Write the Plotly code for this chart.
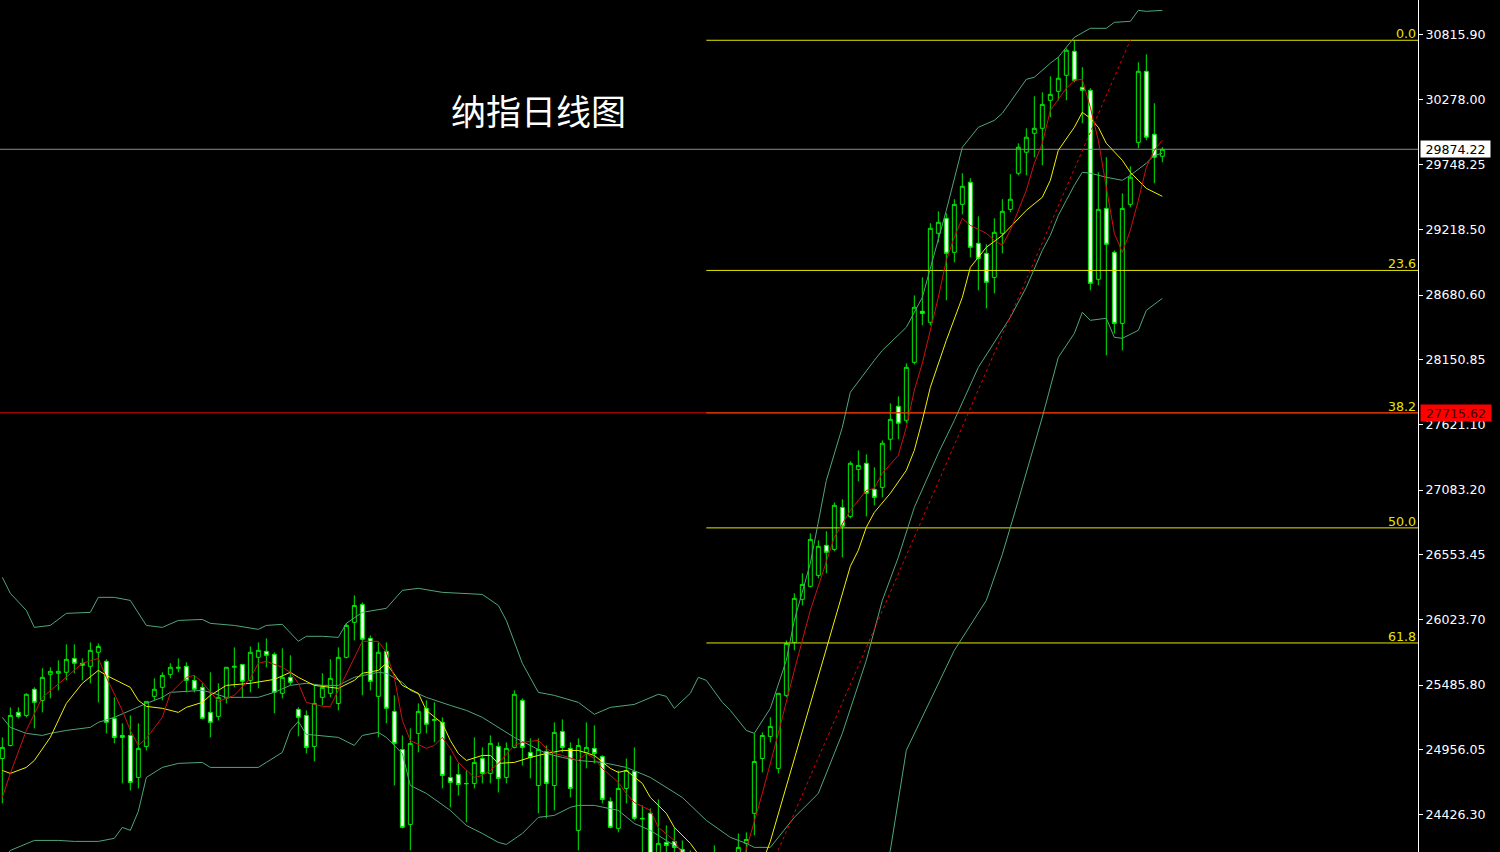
import plotly.graph_objects as go

# ---------------- candle data (daily OHLC) ----------------
open_ = [24884, 24991, 25262, 25237, 25451, 25360, 25573, 25582, 25590, 25704,
         25664, 25639, 25754, 25680, 25213, 25073, 25073, 24729, 24983, 25393,
         25467, 25573, 25623, 25639, 25524, 25467, 25262, 25229, 25377, 25631,
         25655, 25524, 25713, 25762, 25737, 25418, 25549, 25286, 25237, 24983,
         25385, 25418, 25335, 25713, 25999, 26146, 25868, 25393, 25762, 25270,
         24958, 24344, 25090, 25295, 25196, 25180, 24729, 24753, 24680, 24680,
         24884, 24762, 24983, 24729, 24975, 25360, 24934, 24663, 24942, 24663,
         25106, 24967, 24295, 24934, 24967, 24901, 24533, 24312, 24639, 24778,
         24394, 24435, 23926, 24197, 24205, 24140, 24090, 23681, 23230, 22984,
         23722, 23517, 23885, 24189, 24435, 24884, 25065, 24803, 25401, 25835,
         26188, 26294, 26384, 26630, 26597, 26941, 26867, 27252, 27302, 27089,
         27105, 27499, 27769, 27654, 28129, 28547, 28457, 29186, 29309, 29030,
         29423, 29604, 29104, 29022, 28825, 29186, 29382, 29678, 29850, 30005,
         30046, 30275, 30349, 30480, 30677, 30382, 30357, 28809, 29390, 29030,
         28448, 29423, 29931, 30513, 29997, 29817]
high = [25057, 25303, 25303, 25418, 25467, 25623, 25631, 25688, 25819, 25819,
        25704, 25835, 25827, 25696, 25385, 25172, 25237, 25172, 25352, 25541,
        25590, 25664, 25704, 25672, 25565, 25500, 25590, 25500, 25631, 25794,
        25655, 25802, 25835, 25868, 25754, 25786, 25729, 25303, 25278, 25483,
        25582, 25696, 25794, 25991, 26220, 26163, 25892, 25835, 25835, 25401,
        25073, 25131, 25335, 25360, 25344, 25221, 24909, 24844, 24786, 25057,
        24975, 25073, 25016, 25016, 25442, 25377, 25049, 25049, 24991, 25180,
        25204, 25016, 25049, 25180, 25155, 24909, 24565, 24786, 24884, 24975,
        24500, 24475, 24549, 24336, 24320, 24213, 24131, 23804, 23312, 24172,
        23967, 24033, 24270, 24279, 25090, 25098, 25221, 25418, 25851, 26237,
        26401, 26728, 26671, 26745, 26982, 27007, 27318, 27408, 27375, 27269,
        27490, 27793, 27850, 28121, 28677, 28825, 29268, 29366, 29350, 29465,
        29678, 29637, 29325, 29096, 29309, 29465, 29670, 29923, 30046, 30308,
        30341, 30472, 30628, 30701, 30767, 30546, 30374, 29686, 29809, 29046,
        29513, 29735, 30587, 30652, 30251, 29891]
low = [24516, 24983, 25213, 25221, 25131, 25262, 25377, 25442, 25524, 25582,
       25524, 25500, 25344, 25090, 25008, 24680, 24622, 24639, 24950, 25360,
       25360, 25541, 25590, 25426, 25426, 25204, 25057, 25196, 25335, 25467,
       25385, 25426, 25459, 25631, 25254, 25377, 25483, 25065, 24925, 24860,
       25319, 25385, 25278, 25704, 25851, 25401, 25442, 25057, 25172, 24663,
       24312, 24131, 24934, 25090, 25016, 24639, 24484, 24581, 24361, 24639,
       24680, 24680, 24606, 24680, 24967, 24827, 24721, 24435, 24394, 24459,
       24934, 24565, 24131, 24803, 24844, 24516, 24312, 24279, 24516, 24377,
       24049, 23885, 23844, 24049, 24066, 23885, 23599, 23107, 22779, 22820,
       23230, 23394, 23804, 23967, 24254, 24770, 25016, 24762, 25385, 25770,
       26138, 26286, 26360, 26401, 26581, 26532, 26851, 27154, 26867, 26957,
       27023, 27408, 27499, 27630, 28112, 28432, 28432, 29112, 28637, 28948,
       29341, 28989, 28719, 28571, 28694, 29022, 29358, 29661, 29661, 29809,
       29743, 30136, 30275, 30275, 30423, 30087, 28719, 28760, 28186, 28366,
       28227, 29399, 29882, 29948, 29595, 29768]
close = [24975, 25237, 25229, 25410, 25344, 25549, 25598, 25598, 25696, 25664,
         25647, 25770, 25802, 25180, 25057, 25057, 24688, 24967, 25352, 25451,
         25565, 25631, 25631, 25524, 25451, 25213, 25180, 25385, 25631, 25639,
         25516, 25754, 25770, 25729, 25426, 25549, 25508, 25221, 24975, 25335,
         25467, 25541, 25713, 25974, 26138, 25860, 25516, 25754, 25295, 25008,
         24320, 25008, 25270, 25164, 25204, 24745, 24688, 24671, 24678, 24852,
         24762, 25008, 24721, 24967, 25410, 24975, 24893, 24958, 24680, 25098,
         24975, 24639, 24991, 24975, 24925, 24549, 24320, 24639, 24786, 24394,
         24390, 23967, 24189, 24172, 24156, 23967, 23681, 23230, 22902, 23722,
         23476, 23885, 24156, 24221, 24860, 25073, 25147, 25418, 25827, 26196,
         26310, 26679, 26622, 26573, 26958, 26786, 27302, 27285, 27056, 27023,
         27466, 27662, 27630, 28088, 28580, 28530, 29227, 29276, 29022, 29423,
         29571, 29071, 28980, 28784, 29194, 29366, 29465, 29891, 29973, 30046,
         30242, 30324, 30456, 30685, 30439, 30357, 28776, 29382, 29096, 28448,
         29390, 29645, 30513, 29973, 29809, 29874.22]

# ---------------- indicator lines (bar index, value) ----------------
ma_red_idx = [0, 1, 3, 5, 8, 10, 12, 13, 15, 16, 17, 18, 20, 21, 23, 24, 25, 27, 29, 31,
              32, 33, 35, 36, 37, 38, 40, 41, 42, 44, 45, 47, 48, 49, 50, 51, 53, 54, 55, 56,
              57, 59, 60, 61, 62, 64, 65, 67, 68, 69, 70, 72, 73, 74, 75, 77, 78, 79, 81, 82,
              84, 85, 86, 87, 88, 89, 90, 91, 92, 93, 95, 97, 99, 101, 103, 104, 106, 108, 109, 110,
              112, 113, 114, 115, 117, 118, 119, 120, 121, 123, 124, 125, 126, 128, 129, 130, 131, 133, 134, 135,
              136, 137, 138, 139, 140, 141, 142, 143, 144, 145]
ma_red_val = [24565, 24762, 25114, 25385, 25549, 25664, 25704, 25549, 25278, 25114, 24991, 25049, 25221, 25418, 25549, 25565, 25508, 25352, 25401, 25541,
              25664, 25680, 25631, 25590, 25500, 25344, 25311, 25311, 25442, 25704, 25844, 25844, 25754, 25549, 25196, 25032, 24967, 24991, 25057, 24967,
              24852, 24729, 24745, 24786, 24844, 24991, 25016, 25032, 24967, 24925, 24909, 24868, 24925, 24884, 24803, 24688, 24598, 24524, 24459, 24320,
              24213, 24100, 23980, 23800, 23550, 23400, 23380, 23600, 23900, 24140, 24598, 25090, 25606, 26097, 26507, 26695, 26916, 27080, 27097, 27220,
              27367, 27597, 27900, 28121, 28661, 28964, 29153, 29309, 29251, 29186, 29128, 29087, 29210, 29538, 29760, 29923, 30193, 30373, 30439, 30447,
              30218, 29948, 29563, 29186, 29030, 29210, 29456, 29727, 29866, 29948]

ma_yel_idx = [0, 1, 3, 4, 6, 8, 10, 12, 13, 16, 17, 18, 20, 22, 23, 25, 26, 28, 31, 34,
              36, 37, 39, 41, 42, 44, 45, 47, 48, 50, 52, 53, 55, 56, 57, 58, 60, 61, 62, 64,
              66, 68, 70, 72, 74, 76, 77, 78, 80, 81, 83, 84, 86, 87, 88, 89, 90, 91, 92, 93,
              94, 95, 96, 98, 100, 102, 104, 106, 107, 108, 109, 111, 113, 114, 115, 116, 118, 120, 121, 123,
              125, 126, 128, 130, 131, 132, 134, 135, 136, 137, 138, 140, 141, 142, 143, 145]
ma_yel_val = [24786, 24762, 24811, 24868, 25057, 25335, 25500, 25606, 25565, 25467, 25360, 25311, 25295, 25262, 25303, 25344, 25401, 25483, 25500, 25532,
              25590, 25549, 25483, 25467, 25459, 25524, 25582, 25606, 25664, 25483, 25418, 25278, 25172, 25032, 24925, 24868, 24909, 24909, 24844, 24852,
              24893, 24925, 24950, 24950, 24909, 24803, 24770, 24786, 24680, 24565, 24435, 24320, 24189, 24100, 24000, 23930, 23880, 23880, 23920, 23970,
              24000, 24033, 24205, 24656, 25106, 25565, 26016, 26458, 26589, 26778, 26900, 27056, 27244, 27408, 27654, 27924, 28309, 28661, 28907, 29071,
              29169, 29235, 29374, 29481, 29620, 29866, 30054, 30177, 30128, 30054, 29923, 29784, 29686, 29620, 29554, 29489]

bb_mid_idx = [0, 1, 3, 5, 6, 8, 11, 12, 14, 16, 18, 20, 21, 23, 25, 26, 28, 32, 34, 36,
              38, 40, 42, 44, 47, 48, 50, 51, 53, 56, 58, 60, 62, 64, 66, 68, 70, 72, 75, 78,
              81, 85, 88, 91, 93, 94, 96, 99, 102, 105, 108, 110, 112, 114, 117, 119, 122, 126, 128, 130,
              131, 132, 133, 134, 135, 136, 138, 140, 141, 143, 144, 145]
bb_mid_val = [25221, 25139, 25090, 25073, 25090, 25114, 25139, 25180, 25221, 25278, 25335, 25385, 25426, 25434, 25442, 25426, 25385, 25385, 25426, 25483,
              25500, 25483, 25483, 25549, 25590, 25582, 25508, 25442, 25385, 25319, 25278, 25221, 25139, 25057, 24991, 24925, 24893, 24868, 24852, 24811,
              24729, 24565, 24377, 24238, 24189, 24156, 24156, 24402, 24598, 25090, 25688, 26179, 26532, 26941, 27384, 27654, 28088, 28498, 28743, 29046,
              29169, 29333, 29456, 29579, 29686, 29678, 29645, 29620, 29661, 29760, 29825, 29841]

bb_up_idx = [0, 1, 3, 4, 6, 8, 11, 12, 14, 16, 18, 20, 22, 25, 26, 29, 32, 33, 35, 37,
             38, 40, 42, 43, 45, 47, 48, 50, 52, 55, 57, 60, 62, 63, 65, 67, 69, 71, 72, 74,
             76, 79, 82, 83, 84, 86, 87, 88, 90, 91, 93, 94, 96, 98, 99, 101, 102, 103, 105, 106,
             109, 110, 113, 115, 118, 120, 122, 124, 125, 127, 128, 129, 131, 132, 134, 136, 138, 139, 141, 142,
             143, 145]
bb_up_val = [26368, 26237, 26097, 25958, 25974, 26073, 26081, 26204, 26204, 26179, 25974, 25958, 26015, 26023, 25991, 25974, 25942, 25974, 25983, 25844,
             25885, 25885, 25876, 25991, 26081, 26105, 26114, 26261, 26278, 26245, 26237, 26228, 26138, 26015, 25664, 25426, 25401, 25360, 25344, 25246,
             25303, 25327, 25410, 25393, 25295, 25418, 25549, 25524, 25344, 25278, 25114, 25090, 25295, 25688, 26015, 26482, 26835, 27162, 27597, 27884,
             28145, 28227, 28416, 28661, 29374, 29890, 30054, 30111, 30169, 30357, 30447, 30464, 30579, 30628, 30791, 30865, 30865, 30914, 30922, 31012,
             31004, 31012]

bb_lo_idx = [0, 1, 4, 7, 9, 12, 14, 15, 16, 17, 18, 20, 22, 25, 26, 32, 33, 35, 36, 37,
             38, 42, 44, 45, 47, 48, 50, 51, 53, 56, 58, 60, 62, 63, 65, 67, 69, 71, 72, 74,
             77, 79, 81, 83, 85, 87, 90, 93, 96, 100, 104, 108, 110, 111, 113, 119, 123, 125, 127, 130,
             132, 134, 135, 136, 138, 139, 140, 142, 143, 145]
bb_lo_val = [24050, 24131, 24213, 24213, 24205, 24205, 24230, 24320, 24295, 24451, 24729, 24811, 24844, 24852, 24811, 24811, 24852, 24934, 25114, 25188,
             25082, 25057, 24991, 25073, 25098, 25057, 24925, 24663, 24598, 24459, 24336, 24270, 24197, 24180, 24270, 24402, 24418, 24484, 24500, 24500,
             24459, 24352, 24295, 24213, 24131, 23950, 23500, 23100, 22800, 22600, 22800, 23600, 23950, 24131, 24951, 25770, 26179, 26556, 26998, 27680,
             28170, 28366, 28539, 28473, 28490, 28334, 28326, 28391, 28555, 28653]

# ---------------- Fibonacci object + horizontal lines ----------------
fib_anchor_idx = [88, 141]          # 100% anchor bar, 0% anchor bar
fib_anchor_price = [22779, 30767]   # low, high
fib_levels = [0.0, 23.6, 38.2, 50.0, 61.8, 100.0]
fib_labels = ["0.0", "23.6", "38.2", "50.0", "61.8", "100.0"]
hline_price = 27715.62
last_price = 29874.22

tick_vals = [30815.90, 30278.00, 29748.25, 29218.50, 28680.60, 28150.85, 27621.10,
             27083.20, 26553.45, 26023.70, 25485.80, 24956.05, 24426.30]

title_text = "纳指日线图"

# ---------------- styling ----------------
CANDLE_GREEN = "#00EE00"
BB_COLOR = "#4FA67A"
RED = "#D01010"
YEL = "#F0F000"
FIB_COL = "#E6E600"
X_MIN, X_MAX = -0.29, 176.96
Y_MIN, Y_MAX = 24118.2, 31096.9
AX_FONT = dict(family="DejaVu Sans", size=12.6, color="#FFFFFF")

fig = go.Figure()

# Fibonacci level rays
fib_hi, fib_lo = fib_anchor_price[1], fib_anchor_price[0]
for lv, lab in zip(fib_levels, fib_labels):
    price = fib_hi - lv / 100.0 * (fib_hi - fib_lo)
    fig.add_trace(go.Scatter(x=[fib_anchor_idx[0], X_MAX], y=[price, price], mode="lines",
                             line=dict(color=FIB_COL, width=1), hoverinfo="skip", showlegend=False))
    if Y_MIN < price < Y_MAX:
        fig.add_annotation(x=1, xref="paper", y=price, yref="y", text=lab, showarrow=False,
                           xanchor="right", yanchor="bottom", xshift=0, yshift=-3,
                           font=dict(family="DejaVu Sans", size=12.6, color=FIB_COL))

# current price line and horizontal red line
fig.add_trace(go.Scatter(x=[X_MIN, X_MAX], y=[last_price, last_price], mode="lines",
                         line=dict(color="#8C8C8C", width=1), hoverinfo="skip", showlegend=False))
fig.add_trace(go.Scatter(x=[X_MIN, X_MAX], y=[hline_price, hline_price], mode="lines",
                         line=dict(color="#E00000", width=1), hoverinfo="skip", showlegend=False))

# candles
idx = list(range(len(close)))
fig.add_trace(go.Candlestick(
    x=idx, open=open_, high=high, low=low, close=close,
    increasing=dict(line=dict(color=CANDLE_GREEN, width=1), fillcolor="#000000"),
    decreasing=dict(line=dict(color=CANDLE_GREEN, width=1), fillcolor="#FFFFFF"),
    whiskerwidth=0, hoverinfo="skip", showlegend=False))

# indicators
for xs, ys, col in [(bb_up_idx, bb_up_val, BB_COLOR), (bb_mid_idx, bb_mid_val, BB_COLOR),
                    (bb_lo_idx, bb_lo_val, BB_COLOR), (ma_yel_idx, ma_yel_val, YEL),
                    (ma_red_idx, ma_red_val, RED)]:
    fig.add_trace(go.Scatter(x=xs, y=ys, mode="lines", line=dict(color=col, width=1),
                             hoverinfo="skip", showlegend=False))

# fib trend line (dashed)
fig.add_trace(go.Scatter(x=fib_anchor_idx, y=fib_anchor_price, mode="lines",
                         line=dict(color="#E00000", width=1, dash="3px,3px"),
                         hoverinfo="skip", showlegend=False))

# price labels on the axis
fig.add_annotation(x=1, xref="paper", y=last_price, yref="y", text=f"{last_price:.2f}",
                   showarrow=False, xanchor="left", xshift=2, bgcolor="#FFFFFF", borderpad=0,
                   width=69, height=16, align="center",
                   font=dict(family="DejaVu Sans", size=12.6, color="#000000"))
fig.add_annotation(x=1, xref="paper", y=hline_price, yref="y", text=f"{hline_price:.2f}",
                   showarrow=False, xanchor="left", xshift=2, bgcolor="#FF0000", borderpad=0,
                   width=70, height=16, align="center",
                   font=dict(family="DejaVu Sans", size=12.6, color="#400000"))

# title
fig.add_annotation(x=538 / 1418, xref="paper", y=1 - 110 / 852, yref="paper", text=title_text,
                   showarrow=False, xanchor="center", yanchor="middle",
                   font=dict(family="Noto Sans CJK SC", size=35, color="#FFFFFF"))

fig.update_layout(
    width=1500, height=852, margin=dict(l=0, r=82, t=0, b=0),
    paper_bgcolor="#000000", plot_bgcolor="#000000", showlegend=False,
    xaxis=dict(range=[X_MIN, X_MAX], visible=False, rangeslider=dict(visible=False),
               showgrid=False, zeroline=False, fixedrange=True),
    yaxis=dict(range=[Y_MIN, Y_MAX], side="right", tickvals=tick_vals,
               ticktext=[f"{v:.2f}" for v in tick_vals], ticks="outside", ticklen=4,
               tickcolor="#FFFFFF", showline=True, linecolor="#FFFFFF", linewidth=1,
               showgrid=False, zeroline=False, fixedrange=True, tickfont=AX_FONT),
)

fig.write_html("out.html", config={"displayModeBar": False},
               post_script="document.body.style.margin='0';document.body.style.background='#000';")
